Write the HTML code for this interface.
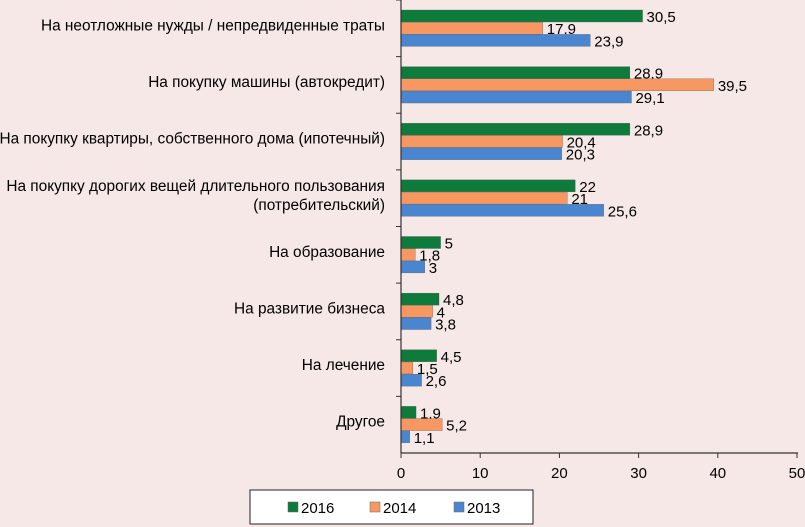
<!DOCTYPE html>
<html><head><meta charset="utf-8"><style>
body{margin:0;background:#f6e8e6;}
svg{display:block;font-family:"Liberation Sans","DejaVu Sans",sans-serif;}
</style></head><body>
<svg id="c" width="805" height="527" viewBox="0 0 805 527"></svg>
<script>
const categories=[["На неотложные нужды / непредвиденные траты"],["На покупку машины (автокредит)"],["На покупку квартиры, собственного дома (ипотечный)"],["На покупку дорогих вещей длительного пользования","(потребительский)"],["На образование"],["На развитие бизнеса"],["На лечение"],["Другое"]];
const s2016=[30.5,28.9,28.9,22,5,4.8,4.5,1.9];
const s2014=[17.9,39.5,20.4,21,1.8,4,1.5,5.2];
const s2013=[23.9,29.1,20.3,25.6,3,3.8,2.6,1.1];
const seriesNames=["2016","2014","2013"];
const colors=["#0e7a3c","#f79862","#4a86cf"];
const ticks=[0,10,20,30,40,50];
const NS="http://www.w3.org/2000/svg";
const svg=document.getElementById('c');
const x0=401,x1=797,yTop=0,yBot=453,band=(yBot-yTop)/categories.length;
const xs=v=>x0+(x1-x0)*v/50;
function el(t,a,txt){const e=document.createElementNS(NS,t);for(const k in a)e.setAttribute(k,a[k]);if(txt!==undefined)e.textContent=txt;svg.appendChild(e);return e;}
const series=[s2016,s2014,s2013];
categories.forEach((lines,i)=>{
  const gy=yTop+i*band;
  series.forEach((arr,j)=>{
    const y=gy+10+j*12.2;
    const r=el('rect',{x:x0,y:y,width:xs(arr[i])-x0,height:12,fill:colors[j],stroke:'#555',"stroke-width":0.3});
    
    
    const t=el('text',{x:xs(arr[i])+4,y:y+12,"font-size":15,fill:'#000'},String(arr[i]).replace('.',','));
    
    
  });
  const cy=gy+band/2-(lines.length-1)*9+2;
  lines.forEach((ln,k)=>{
    const t=el('text',{x:385,y:cy+k*19,"font-size":15.4,"text-anchor":"end",fill:'#000'},ln);
    
    
  });
  const tk=el('line',{x1:396,x2:401,y1:gy,y2:gy,stroke:'#333'});
  
  
});
const ax=el('line',{x1:x0,x2:x0,y1:yTop,y2:yBot,stroke:'#333',"stroke-width":1.2});


const bx=el('line',{x1:x0,x2:x1+1,y1:yBot,y2:yBot,stroke:'#333',"stroke-width":1.2});


ticks.forEach(v=>{
  const l=el('line',{x1:xs(v),x2:xs(v),y1:yBot,y2:yBot+5,stroke:'#333'});
  
  
  const t=el('text',{x:xs(v),y:yBot+25,"font-size":15,"text-anchor":"middle",fill:'#000'},String(v));
  
  
});
const lg=el('rect',{x:250,y:490,width:283,height:34,fill:'#fff',stroke:'#222',"stroke-width":1});


const lx=[288,370,454];
seriesNames.forEach((n,j)=>{
  const r=el('rect',{x:lx[j],y:502,width:10,height:10,fill:colors[j],stroke:'#666',"stroke-width":0.5});
  
  
  const t=el('text',{x:lx[j]+13,y:513,"font-size":15,fill:'#000'},n);
  
  
});
</script>
</body></html>
